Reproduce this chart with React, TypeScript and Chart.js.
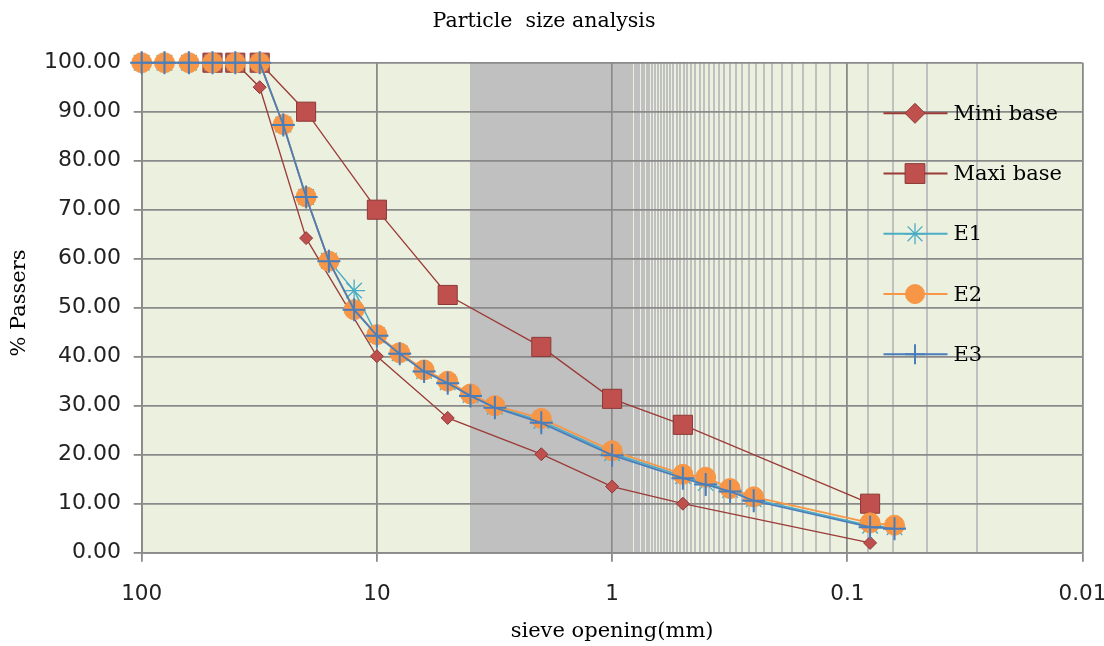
import React, { useEffect, useRef } from 'react';
import { Chart, registerables } from 'chart.js';

Chart.register(...registerables);

// ---- data ----
const sievesE = [100, 80, 63, 50, 40, 31.5, 25, 20, 16, 12.5, 10, 8, 6.3, 5, 4, 3.15, 2, 1, 0.5, 0.4, 0.315, 0.25, 0.08, 0.063];
const e1Values = [100, 100, 100, 100, 100, 100, 87.4, 72.6, 59.6, 53.5, 44.4, 40.7, 37.1, 34.8, 32.2, 29.8, 26.9, 20.3, 15.6, 14.2, 12.8, 10.9, 5.5, 5.2];
const e2Values = [100, 100, 100, 100, 100, 100, 87.4, 72.6, 59.5, 49.6, 44.5, 40.8, 37.3, 35.0, 32.4, 30.0, 27.4, 20.8, 16.0, 15.4, 13.1, 11.4, 6.1, 5.6];
const e3Values = [100, 100, 100, 100, 100, 100, 87.3, 72.6, 59.5, 49.6, 44.3, 40.6, 37.0, 34.6, 32.0, 29.6, 26.5, 19.9, 15.2, 13.9, 12.5, 10.6, 5.2, 4.9];
const sievesMini = [40, 31.5, 20, 10, 5, 2, 1, 0.5, 0.08];
const miniValues = [100, 95, 64.2, 40.1, 27.5, 20.1, 13.5, 10, 2];
const sievesMaxi = [50, 40, 31.5, 20, 10, 5, 2, 1, 0.5, 0.08];
const maxiValues = [100, 100, 100, 90, 70, 52.6, 42, 31.4, 26.1, 10];
const seriesNames = ['Mini base', 'Maxi base', 'E1', 'E2', 'E3'];
const xDecades = [100, 10, 1, 0.1, 0.01];
const xTickLabels = ['100', '10', '1', '0.1', '0.01'];
const chartTitle = 'Particle  size analysis';
const xTitle = 'sieve opening(mm)';
const yTitle = '% Passers';

// minor vertical gridlines (linear minor unit on a log axis, as in the source chart)
const minorStart = 0.01;
const minorUnit = 0.018;
const minorCount = 222;

const MAJOR = '#8a8a8a';
const MINOR = '#c0c0c0';
const PLOT_BG = '#EBF1DE';
const SERIF = '"DejaVu Serif", serif';
const SANS = '"DejaVu Sans", sans-serif';

const isDecade = (v: number) => xDecades.some((d) => Math.abs(v / d - 1) < 1e-6);

const xTickValues: number[] = (() => {
  const vals: number[] = [...xDecades];
  for (let k = 0; k < minorCount; k++) {
    const v = +(minorStart + k * minorUnit).toFixed(4);
    if (!vals.some((d) => Math.abs(v / d - 1) < 1e-6)) vals.push(v);
  }
  return vals.sort((a, b) => a - b);
})();

function drawMarker(ctx: CanvasRenderingContext2D, style: string, x: number, y: number, r: number, fill: string, stroke: string, lw: number) {
  ctx.save();
  ctx.beginPath();
  ctx.lineWidth = lw;
  ctx.fillStyle = fill;
  ctx.strokeStyle = stroke;
  if (style === 'rectRot') {
    ctx.moveTo(x, y - r);
    ctx.lineTo(x + r, y);
    ctx.lineTo(x, y + r);
    ctx.lineTo(x - r, y);
    ctx.closePath();
    ctx.fill();
    ctx.stroke();
  } else if (style === 'rect') {
    const s = r * Math.SQRT1_2;
    ctx.rect(x - s, y - s, 2 * s, 2 * s);
    ctx.fill();
    ctx.stroke();
  } else if (style === 'circle') {
    ctx.arc(x, y, r, 0, Math.PI * 2);
    ctx.fill();
    ctx.stroke();
  } else if (style === 'cross') {
    ctx.moveTo(x, y - r);
    ctx.lineTo(x, y + r);
    ctx.moveTo(x - r, y);
    ctx.lineTo(x + r, y);
    ctx.stroke();
  } else if (style === 'star') {
    const o = r * Math.SQRT1_2;
    ctx.moveTo(x, y - r);
    ctx.lineTo(x, y + r);
    ctx.moveTo(x - r, y);
    ctx.lineTo(x + r, y);
    ctx.moveTo(x - o, y - o);
    ctx.lineTo(x + o, y + o);
    ctx.moveTo(x - o, y + o);
    ctx.lineTo(x + o, y - o);
    ctx.stroke();
  }
  ctx.restore();
}

const legendMarkerSize = [10, 14, 10.5, 9.5, 10];

const decorPlugin = {
  id: 'decor',
  beforeDraw(chart: any) {
    const { ctx, chartArea: a } = chart;
    ctx.save();
    ctx.fillStyle = PLOT_BG;
    ctx.fillRect(a.left, a.top, a.right - a.left, a.bottom - a.top);
    ctx.restore();
  },
  afterDraw(chart: any) {
    const { ctx, chartArea: a } = chart;
    ctx.save();
    ctx.fillStyle = '#000';
    ctx.textBaseline = 'middle';
    // title
    ctx.font = `20.5px ${SERIF}`;
    ctx.textAlign = 'center';
    ctx.fillText(chartTitle, 544, 22);
    // x title
    ctx.font = `21px ${SERIF}`;
    ctx.fillText(xTitle, (a.left + a.right) / 2, 632);
    // y title
    ctx.save();
    ctx.translate(20, 303);
    ctx.rotate(-Math.PI / 2);
    ctx.fillText(yTitle, 0, 0);
    ctx.restore();
    // legend
    const x0 = a.right - 199;
    const x1 = a.right - 135;
    const xm = a.right - 167.5;
    const xt = a.right - 129;
    chart.data.datasets.forEach((ds: any, i: number) => {
      const y = a.top + 50.6 + i * 60.25;
      ctx.save();
      ctx.strokeStyle = ds.borderColor;
      ctx.lineWidth = 2;
      ctx.beginPath();
      ctx.moveTo(x0, y);
      ctx.lineTo(x1, y);
      ctx.stroke();
      ctx.restore();
      drawMarker(ctx, ds.pointStyle, xm, y, legendMarkerSize[i], ds.pointBackgroundColor, ds.pointBorderColor, ds.pointBorderWidth);
      ctx.fillStyle = '#000';
      ctx.textAlign = 'left';
      ctx.font = `21px ${SERIF}`;
      ctx.fillText(ds.label, xt, y + 1);
    });
    ctx.restore();
  },
};

const toPoints = (xs: number[], ys: number[]) => xs.map((x, i) => ({ x, y: ys[i] }));

export default function App() {
  const ref = useRef<HTMLCanvasElement>(null);
  useEffect(() => {
    document.body.style.margin = '0';
    const chart = new Chart(ref.current as HTMLCanvasElement, {
      type: 'line',
      data: {
        datasets: [
          {
            label: seriesNames[0],
            data: toPoints(sievesMini, miniValues),
            borderColor: '#9B3B38',
            borderWidth: 1.3,
            pointStyle: 'rectRot',
            pointRadius: 6.5,
            pointBackgroundColor: '#C0504D',
            pointBorderColor: '#8C3836',
            pointBorderWidth: 1,
            clip: false,
            order: 5,
          },
          {
            label: seriesNames[1],
            data: toPoints(sievesMaxi, maxiValues),
            borderColor: '#9B3B38',
            borderWidth: 1.3,
            pointStyle: 'rect',
            pointRadius: 13.5,
            pointBackgroundColor: '#C0504D',
            pointBorderColor: '#8C3836',
            pointBorderWidth: 1,
            clip: false,
            order: 4,
          },
          {
            label: seriesNames[2],
            data: toPoints(sievesE, e1Values),
            borderColor: '#4BACC6',
            borderWidth: 1.5,
            pointStyle: 'star',
            pointRadius: 11,
            pointBackgroundColor: '#4BACC6',
            pointBorderColor: '#4BACC6',
            pointBorderWidth: 1.3,
            clip: false,
            order: 3,
          },
          {
            label: seriesNames[3],
            data: toPoints(sievesE, e2Values),
            borderColor: '#F79646',
            borderWidth: 1.8,
            pointStyle: 'circle',
            pointRadius: 10,
            pointBackgroundColor: '#F79646',
            pointBorderColor: '#F79646',
            pointBorderWidth: 1,
            clip: false,
            order: 2,
          },
          {
            label: seriesNames[4],
            data: toPoints(sievesE, e3Values),
            borderColor: '#4A7EBB',
            borderWidth: 1.8,
            pointStyle: 'cross',
            pointRadius: 11.5,
            pointBackgroundColor: '#4A7EBB',
            pointBorderColor: '#4A7EBB',
            pointBorderWidth: 2,
            clip: false,
            order: 1,
          },
        ] as any,
      },
      options: {
        animation: false,
        responsive: false,
        events: [],
        layout: { padding: { top: 62.7, right: 21.5, left: 0, bottom: 0 } },
        plugins: { legend: { display: false }, title: { display: false }, tooltip: { enabled: false } },
        elements: { line: { tension: 0 } },
        scales: {
          x: {
            type: 'logarithmic',
            reverse: true,
            min: 0.01,
            max: 100,
            afterBuildTicks: (scale: any) => {
              scale.ticks = xTickValues.map((v) => ({ value: v }));
            },
            afterFit: (scale: any) => {
              scale.height = 646 - 552.7;
              scale.paddingLeft = 0;
              scale.paddingRight = 0;
            },
            ticks: {
              autoSkip: false,
              maxRotation: 0,
              minRotation: 0,
              padding: 20,
              color: '#222',
              font: { family: SANS, size: 21.5 },
              callback: (v: any) => {
                const idx = xDecades.findIndex((d) => Math.abs(Number(v) / d - 1) < 1e-6);
                return idx >= 0 ? xTickLabels[idx] : '';
              },
            },
            grid: {
              color: (c: any) => (c.tick && isDecade(c.tick.value) ? MAJOR : MINOR),
              lineWidth: (c: any) => (c.tick && isDecade(c.tick.value) ? 1.8 : 2),
              tickColor: (c: any) => (c.tick && isDecade(c.tick.value) ? MAJOR : 'rgba(0,0,0,0)'),
              tickLength: 9,
              drawTicks: true,
            },
            border: { color: MAJOR, width: 1.8 },
          },
          y: {
            min: 0,
            max: 100,
            afterFit: (scale: any) => {
              scale.width = 141.7;
              scale.paddingTop = 0;
              scale.paddingBottom = 0;
            },
            ticks: {
              stepSize: 5,
              padding: 12.7,
              color: '#222',
              font: { family: SANS, size: 22 },
              callback: (v: any) => (Number(v) % 10 === 0 ? Number(v).toFixed(2) : ''),
            },
            grid: {
              color: (c: any) => (c.tick && c.tick.value % 10 === 0 ? MAJOR : MINOR),
              lineWidth: (c: any) => (c.tick && c.tick.value % 10 === 0 ? 1.8 : 1.6),
              tickColor: (c: any) => (c.tick && c.tick.value % 10 === 0 ? MAJOR : 'rgba(0,0,0,0)'),
              tickLength: 8,
              drawTicks: true,
            },
            border: { color: MAJOR, width: 1.8 },
          },
        },
      } as any,
      plugins: [decorPlugin],
    });
    return () => chart.destroy();
  }, []);
  return (
    <div style={{ width: 1104, height: 646 }}>
      <canvas ref={ref} width={1104} height={646} style={{ display: 'block' }} />
    </div>
  );
}
